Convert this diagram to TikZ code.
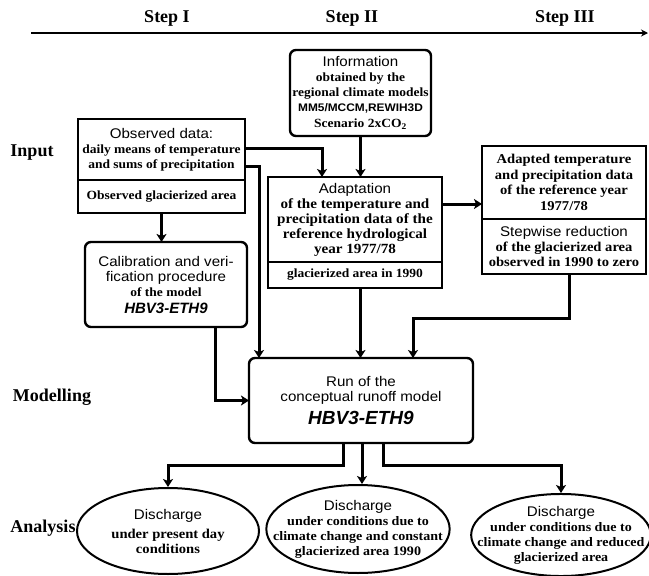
\documentclass[tikz,border=0pt]{standalone}
\usepackage{fontspec}
\setmainfont{Liberation Serif}[FakeStretch=1.08]
\newfontfamily\headfont{Liberation Sans}[FakeStretch=1.08]
\newfontfamily\labelfont{Liberation Serif}
\newfontfamily\modelfont{Liberation Sans}
\usetikzlibrary{arrows.meta,shapes.geometric,positioning}
\tikzset{box/.style={draw,line width=2.4pt,outer sep=0pt,inner sep=1pt,align=center,
		font=\fontsize{12.5}{15}\selectfont\bfseries},
	round box/.style={box,rounded corners=6pt},
	result node/.style={ellipse,draw,line width=2pt,inner xsep=-20pt,inner ysep=0pt,align=center,
		font=\fontsize{13}{15}\selectfont\bfseries},
	flow/.style={line width=3pt,-{Stealth[length=8pt,width=10pt,inset=2pt]}},
	side label/.style={font=\labelfont\fontsize{18}{20}\selectfont\bfseries},
}
\newcommand{\boxhead}[1]{{\headfont\mdseries\fontsize{14}{16}\selectfont #1}}
\newcommand{\modelname}[1][19]{{\modelfont\bfseries\itshape\fontsize{#1}{#1}\selectfont HBV3-ETH9}}

\begin{document}
\begin{tikzpicture}[x=1pt,y=-1pt]
	\useasboundingbox (0,0) rectangle (649,576);
	% time line
	\coordinate (t0) at (31,33);
	\coordinate (t1) at (648,33);
	\draw[line width=2pt,-{Stealth[length=7pt,width=7pt]}] (t0) -- (t1);
	\node[side label] (s1) at (167,18) {Step I};
	\node[side label] (s2) at (352,18) {Step II};
	\node[side label] (s3) at (565,18) {Step III};
	
	\node[side label] (input) at (32,153) {Input};
	\node[side label] (modelling) at (52,397) {Modelling};
	\node[side label] (analysis) at (43,528) {Analysis};
	
	% Step I
	\node[box,minimum width=167pt,minimum height=61pt] (obs) at (161.5,149.5)
	{\boxhead{Observed data:}\\ daily means of temperature\\ and sums of precipitation};
	\node[box,minimum width=167pt,minimum height=33pt] (obsarea) [below=0pt of obs]
	{Observed glacierized area};
	\node[round box,minimum width=162pt,minimum height=85pt] (calib) at (166,284.5)
	{\boxhead{Calibration and veri-}\\ \boxhead{fication procedure}\\ of the model\\[2pt] \modelname[15]};
	
	% Step II
	\node[round box,minimum width=141pt,minimum height=86pt] (info) at (360.5,93)
	{\boxhead{Information}\\ obtained by the\\ regional climate models\\
		{\headfont\bfseries\fontsize{11}{13}\selectfont MM5/MCCM,REWIH3D}\\[1pt] Scenario 2xCO\textsubscript{2}};
	\node[box,minimum width=174pt,minimum height=85pt,font=\fontsize{14}{15}\selectfont\bfseries] (adapt) at (355,219.5)
	{\boxhead{Adaptation}\\ of the temperature and\\ precipitation data of the\\ reference hydrological\\ year 1977/78};
	\node[box,minimum width=174pt,minimum height=26pt] (adaptarea) [below=0pt of adapt]
	{glacierized area in 1990};
	
	% Step III
	\node[box,minimum width=164pt,minimum height=73pt,font=\fontsize{13.5}{15.5}\selectfont\bfseries] (adapted) at (564,182.5)
	{Adapted temperature\\ and precipitation data\\ of the reference year\\ 1977/78};
	\node[box,minimum width=164pt,minimum height=55pt,font=\fontsize{13.5}{15}\selectfont\bfseries] (reduce) [below=0pt of adapted]
	{\boxhead{Stepwise reduction}\\ of the glacierized area\\ observed in 1990 to zero};
	
	% model run
	\node[round box,minimum width=224pt,minimum height=85pt] (run) at (361,400.5)
	{\boxhead{Run of the}\\ \boxhead{conceptual runoff model}\\[6pt] \modelname};
	
	% analysis
	\node[result node,minimum width=182pt,minimum height=86pt,font=\fontsize{13.5}{15}\selectfont\bfseries] (dis1) at (168,531)
	{\boxhead{Discharge}\\[4pt] under present day\\ conditions};
	\node[result node,minimum width=182pt,minimum height=88pt] (dis2) at (358,529)
	{\boxhead{Discharge}\\ under conditions due to\\ climate change and constant\\ glacierized area 1990};
	\node[result node,minimum width=174pt,minimum height=76pt] (dis3) at (561,535)
	{\boxhead{Discharge}\\ under conditions due to\\ climate change and reduced\\ glacierized area};
	
	\draw[flow] ([yshift=1.5pt]obs.east) -| ([xshift=-33pt]adapt.north);
	\draw[flow] ([yshift=-16.5pt]obs.east) -| ([xshift=-102pt]run.north);
	\draw[flow] (obsarea.south) -- (obsarea.south |- calib.north);
	\draw[flow] ([xshift=49pt]calib.south) |- (run.west);
	\draw[flow] (info.south) -- (info.south |- adapt.north);
	\draw[flow] (adaptarea.south -| info.south) -- (run.north -| info.south);
	\draw[flow] ([yshift=15.5pt]adapt.east) -- ([yshift=15.5pt]adapt.east -| adapted.west);
	\draw[flow] ([xshift=5pt]reduce.south) -- ++(0,44) -| ([xshift=52pt]run.north);
	\draw[flow] ([xshift=-18pt]run.south) -- ++(0,22) -| (dis1.north);
	\draw[flow] ([xshift=1pt]run.south) -- ([xshift=1pt]run.south |- dis2.north);
	\draw[flow] ([xshift=22pt]run.south) -- ++(0,22) -| (dis3.north);
\end{tikzpicture}
\end{document}
